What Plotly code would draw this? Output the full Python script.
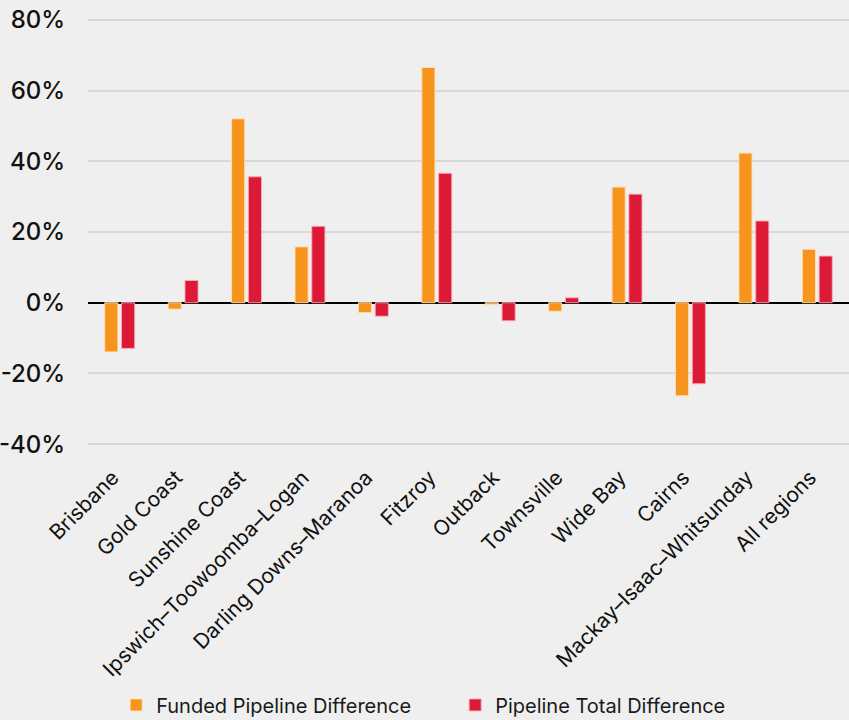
import plotly.graph_objects as go

regions = [
    "Brisbane", "Gold Coast", "Sunshine Coast", "Ipswich–Toowoomba–Logan",
    "Darling Downs–Maranoa", "Fitzroy", "Outback", "Townsville",
    "Wide Bay", "Cairns", "Mackay–Isaac–Whitsunday", "All regions",
]
funded_diff = [-13.9, -1.8, 52.0, 15.8, -2.8, 66.5, -0.5, -2.4, 32.7, -26.3, 42.3, 15.1]
total_diff = [-12.9, 6.3, 35.6, 21.6, -3.8, 36.6, -5.1, 1.4, 30.7, -22.9, 23.1, 13.2]

ORANGE = "#F7941D"
RED = "#DC1A35"
BG = "#EFEFEF"
FONT = "Inter"

fig = go.Figure()
fig.add_trace(go.Bar(
    x=regions, y=funded_diff, name="Funded Pipeline Difference",
    marker=dict(color=ORANGE, line=dict(color="rgba(255,225,180,0.9)", width=1)),
))
fig.add_trace(go.Bar(
    x=regions, y=total_diff, name="Pipeline Total Difference",
    marker=dict(color=RED, line=dict(color="rgba(250,170,185,0.9)", width=1)),
))

fig.update_layout(
    width=849, height=720,
    margin=dict(l=88, r=0, t=18, b=274, autoexpand=False),
    paper_bgcolor=BG,
    plot_bgcolor=BG,
    barmode="group",
    bargap=0.47,
    bargroupgap=0.22,
    font=dict(family=FONT, color="#1A1A1A"),
    legend=dict(
        orientation="h", x=0.037, xanchor="left", y=-0.605, yanchor="middle",
        font=dict(size=20, family=FONT, color="#1A1A1A"),
        entrywidth=294, entrywidthmode="pixels",
        bgcolor="rgba(0,0,0,0)",
    ),
)

fig.update_yaxes(
    range=[-40.5, 80.5], automargin=False,
    tickvals=[-40, -20, 0, 20, 40, 60, 80],
    ticktext=["-40%", "-20%", "0%", "20%", "40%", "60%", "80%"],
    tickfont=dict(size=24, family=FONT, color="#111111", weight=500),
    ticks="outside", ticklen=0, ticklabelstandoff=17,
    showgrid=True, gridcolor="#D8D8D8", gridwidth=1.5,
    zeroline=True, zerolinecolor="#000000", zerolinewidth=2,
    showline=False,
)
fig.update_xaxes(
    automargin=False,
    tickangle=-45,
    tickfont=dict(size=21, family=FONT, color="#111111"),
    ticks="outside", ticklen=0, ticklabelstandoff=10, ticklabelshift=-7,
    showgrid=False, showline=False,
)

# drop the page's default body margin so the figure sits at the corner
fig.write_html(
    "out.html",
    config={"displayModeBar": False},
    post_script="document.body.style.margin='0';document.body.style.background='%s';" % BG,
)
